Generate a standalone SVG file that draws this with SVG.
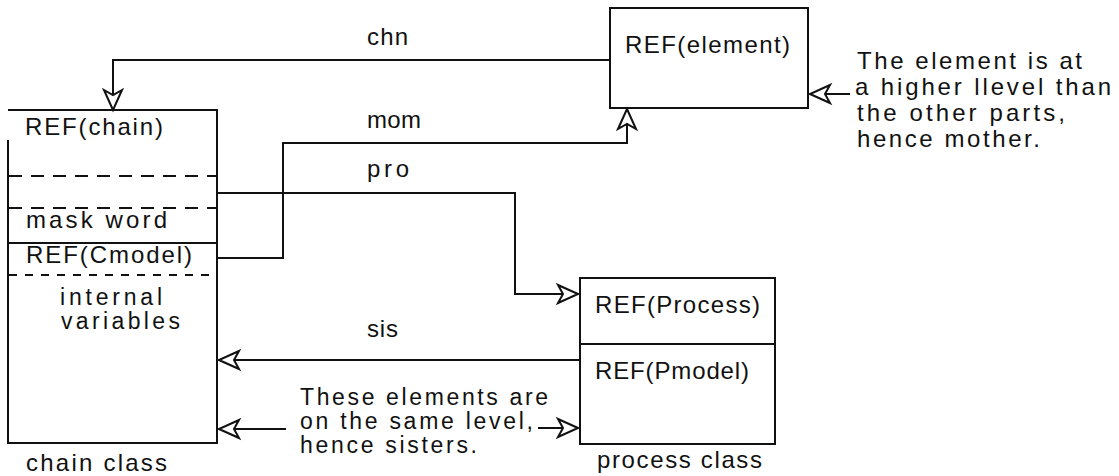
<svg xmlns="http://www.w3.org/2000/svg" width="1119" height="476" viewBox="0 0 1119 476">
  <style>
    .box { fill: #fff; stroke: #111; stroke-width: 2; }
    .ln { fill: none; stroke: #111; stroke-width: 2; }
    .dash { fill: none; stroke: #111; stroke-width: 2; stroke-dasharray: 13 9; }
    .dash-fine { fill: none; stroke: #111; stroke-width: 2; stroke-dasharray: 8 8; }
    .arrow { fill: none; stroke: #111; stroke-width: 2; marker-end: url(#head); }
    text { font-family: "Liberation Sans", Arial, sans-serif; font-size: 24px; fill: #111; }
    .tight { font-size: 23px; }
  </style>
  <defs>
    <!-- hollow notched arrowhead -->
    <marker id="head" viewBox="-3 -12 26 24" refX="20" refY="0" markerWidth="26" markerHeight="24" markerUnits="userSpaceOnUse" orient="auto">
      <path d="M20,0 L0,-9 L5,0 L0,9 Z" fill="#fff" stroke="#111" stroke-width="2" stroke-linejoin="miter"/>
    </marker>
  </defs>
  <rect width="1119" height="476" fill="#fff"/>

  <!-- chain class record -->
  <g id="chain-class">
    <path class="ln" d="M8,140 V443 H217 V110 H8"/>
    <line class="dash" x1="9" y1="176" x2="216" y2="176"/>
    <line class="dash" x1="9" y1="208" x2="216" y2="208"/>
    <line class="ln" x1="8" y1="243" x2="217" y2="243"/>
    <line class="dash-fine" x1="9" y1="275" x2="216" y2="275"/>
    <text x="25" y="135" textLength="138" lengthAdjust="spacing">REF(chain)</text>
    <text x="26" y="228" textLength="141" lengthAdjust="spacing">mask word</text>
    <text x="26" y="263" textLength="166" lengthAdjust="spacing">REF(Cmodel)</text>
    <text class="tight" x="60" y="305" textLength="102" lengthAdjust="spacing">internal</text>
    <text class="tight" x="61" y="329" textLength="119" lengthAdjust="spacing">variables</text>
    <text x="26" y="471" textLength="141" lengthAdjust="spacing">chain class</text>
  </g>

  <!-- element record -->
  <g id="element">
    <rect class="box" x="610" y="8" width="198" height="100"/>
    <text x="625" y="53" textLength="165" lengthAdjust="spacing">REF(element)</text>
  </g>

  <!-- process class record -->
  <g id="process-class">
    <rect class="box" x="580" y="278" width="195" height="166"/>
    <line class="ln" x1="580" y1="344" x2="775" y2="344"/>
    <text x="595" y="313" textLength="165" lengthAdjust="spacing">REF(Process)</text>
    <text x="595" y="379" textLength="154" lengthAdjust="spacing">REF(Pmodel)</text>
    <text x="597" y="468" textLength="165" lengthAdjust="spacing">process class</text>
  </g>

  <!-- explanatory notes -->
  <g id="note-mother">
    <text x="857" y="69" textLength="225" lengthAdjust="spacing">The element is at</text>
    <text x="855" y="95" textLength="256" lengthAdjust="spacing">a higher llevel than</text>
    <text x="857" y="121" textLength="208" lengthAdjust="spacing">the other parts,</text>
    <text x="857" y="147" textLength="183" lengthAdjust="spacing">hence mother.</text>
  </g>
  <g id="note-sisters">
    <text class="tight" x="300" y="405" textLength="248" lengthAdjust="spacing">These elements are</text>
    <text class="tight" x="300" y="429" textLength="233" lengthAdjust="spacing">on the same level,</text>
    <text class="tight" x="300" y="453" textLength="177" lengthAdjust="spacing">hence sisters.</text>
  </g>

  <!-- reference links -->
  <g id="connectors">
    <path class="arrow" d="M610,60 H113 V110"/>
    <path class="arrow" d="M217,258 H283 V143 H627 V109"/>
    <path class="arrow" d="M217,193 H515 V294 H578"/>
    <path class="arrow" d="M580,360 H219"/>
    <path class="arrow" d="M286,429 H219"/>
    <path class="arrow" d="M538,428 H578"/>
    <path class="arrow" d="M850,94 H810"/>
    <text x="367" y="45" textLength="41" lengthAdjust="spacing">chn</text>
    <text x="367" y="128" textLength="54" lengthAdjust="spacing">mom</text>
    <text x="367" y="177" textLength="42" lengthAdjust="spacing">pro</text>
    <text x="367" y="337" textLength="31" lengthAdjust="spacing">sis</text>
  </g>
</svg>
